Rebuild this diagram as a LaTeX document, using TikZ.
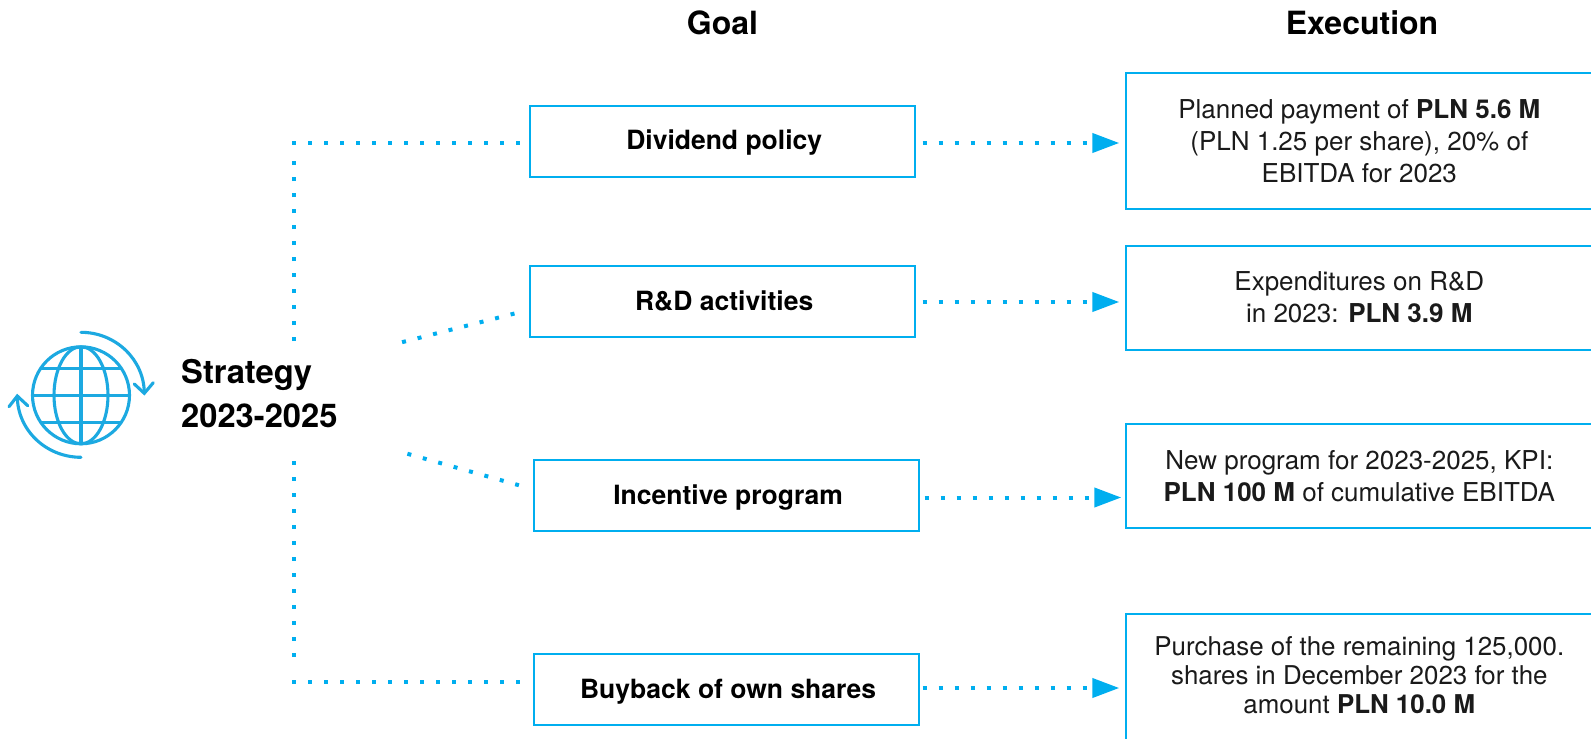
\documentclass[tikz,border=0pt]{standalone}
\usepackage{fontspec}
\setmainfont{TeX Gyre Heros}
\usetikzlibrary{arrows.meta}
\definecolor{cblue}{HTML}{00AEEF}
\definecolor{gblue}{HTML}{1CA9E1}
\definecolor{body}{HTML}{1A1A1A}
\tikzset{
  x=1pt,y=-1pt,
  goalbox/.style={draw=cblue,line width=1.8pt,fill=white,minimum height=71pt,inner sep=0pt,text height=20pt,text depth=3pt,font=\fontsize{26.5}{32}\selectfont\bfseries,text=black},
  execbox/.style={draw=cblue,line width=2pt,fill=white,inner sep=0pt,align=center,text=body,font=\fontsize{26}{32}\selectfont},
  head/.style={font=\fontsize{32}{36}\selectfont\bfseries,text=black,inner sep=0pt},
  dotline/.style={draw=cblue,line width=4pt,dash pattern=on 4pt off 12pt},
  dotarrow/.style={dotline,-{Triangle[length=27pt,width=19pt,sep=0pt]}},
  globeline/.style={draw=gblue,line width=3.1pt},
}
\begin{document}
\begin{tikzpicture}
\useasboundingbox (0,0) rectangle (1591,739);
\fill[white] (0,0) rectangle (1591,739);

\node[head] (hgoal) at (722.5,22.5) {Goal};
\node[head] (hexec) at (1362,22.5) {Execution};

\node[goalbox,minimum width=385pt] (g1) at (722.7,141.3) {\hspace*{3pt}Dividend policy};
\node[goalbox,minimum width=385pt] (g2) at (722.7,301.5) {\hspace*{3pt}R\&D activities};
\node[goalbox,minimum width=385pt] (g3) at (726.6,495.5) {\hspace*{3pt}Incentive program};
\node[goalbox,minimum width=385pt] (g4) at (726.6,689.5) {\hspace*{3pt}Buyback of own shares};

\node[execbox,minimum width=466pt,minimum height=136pt] (e1) at (1359.3,141)
  {Planned payment of \textbf{PLN 5.6 M}\\(PLN 1.25 per share), 20\% of\\EBITDA for 2023};
\node[execbox,minimum width=466pt,minimum height=104pt] (e2) at (1359.3,297.5)
  {Expenditures on R\&D\\in 2023: \textbf{PLN 3.9 M}};
\node[execbox,minimum width=466pt,minimum height=104pt] (e3) at (1359.3,476)
  {New program for 2023-2025, KPI:\\\textbf{PLN 100 M} of cumulative EBITDA};
\node[execbox,minimum width=466pt,minimum height=136pt,font=\fontsize{25.9}{29}\selectfont] (e4) at (1359.3,682)
  {Purchase of the remaining 125,000.\\shares in December 2023 for the\\amount \textbf{PLN 10.0 M}\\[-15pt]\mbox{}};

\draw[dotarrow,shorten <=6.6pt,shorten >=6pt] ([yshift=-1.7pt]g1.east) -- ([yshift=-2pt]e1.west);
\draw[dotarrow,shorten <=6.6pt,shorten >=6pt] ([yshift=-0.5pt]g2.east) -- ([yshift=-4.5pt]e2.west);
\draw[dotarrow,shorten <=4.5pt,shorten >=4pt] ([yshift=-2pt]g3.east) -- ([yshift=-21.5pt]e3.west);
\draw[dotarrow,shorten <=2.5pt,shorten >=6pt] ([yshift=1.5pt]g4.east) -- ([yshift=-6pt]e4.west);

\node[anchor=west,align=left,inner sep=0pt,text=black,font=\fontsize{32.7}{44}\selectfont\bfseries] (strat) at (181,393.5) {Strategy\\2023-2025};

\coordinate (vtopa) at (294,341);
\coordinate (vtopb) at (294,161);
\coordinate (ctop) at (292,143);
\coordinate (vbota) at (294,461);
\coordinate (vbotb) at (294,657);
\coordinate (cbot) at (292,682);
\coordinate (da) at (402.06,342.2);
\coordinate (db) at (514.64,313.5);
\coordinate (dc) at (407.4,453.76);
\coordinate (dd) at (518.9,485.24);

\draw[dotline] (vtopa) -- (vtopb);
\draw[dotline,shorten >=9.7pt] (ctop) -- ([yshift=-1.7pt]g1.west);
\draw[dotline] (vbota) -- (vbotb);
\draw[dotline,shorten >=13.7pt] (cbot) -- ([yshift=7.5pt]g4.west);
\draw[dotline] (da) -- (db);
\draw[dotline] (dc) -- (dd);

% globe icon
\coordinate (gc) at (81,395.3);
\draw[globeline] (gc) circle[radius=48.5];
\draw[globeline] (gc) ellipse[x radius=27,y radius=48.5];
\draw[globeline] (32.5,395.3) -- (129.5,395.3);
\draw[globeline] (81,346.8) -- (81,443.8);
\draw[globeline] (40.5,368.7) -- (121.5,368.7);
\draw[globeline] (40.5,422.5) -- (121.5,422.5);
\draw[globeline,line cap=round] (81,332.3) .. controls (116,332.3) and (144.3,360) .. (144.3,393.3);
\draw[globeline,line cap=round] (134.3,384) -- (144.3,393.3) -- (153.3,382.7);
\draw[globeline,line cap=round] (81,457.3) .. controls (46,457.3) and (17.3,430) .. (17.3,396);
\draw[globeline,line cap=round] (9,406.7) -- (17.3,396) -- (27.7,405.7);
\end{tikzpicture}
\end{document}
